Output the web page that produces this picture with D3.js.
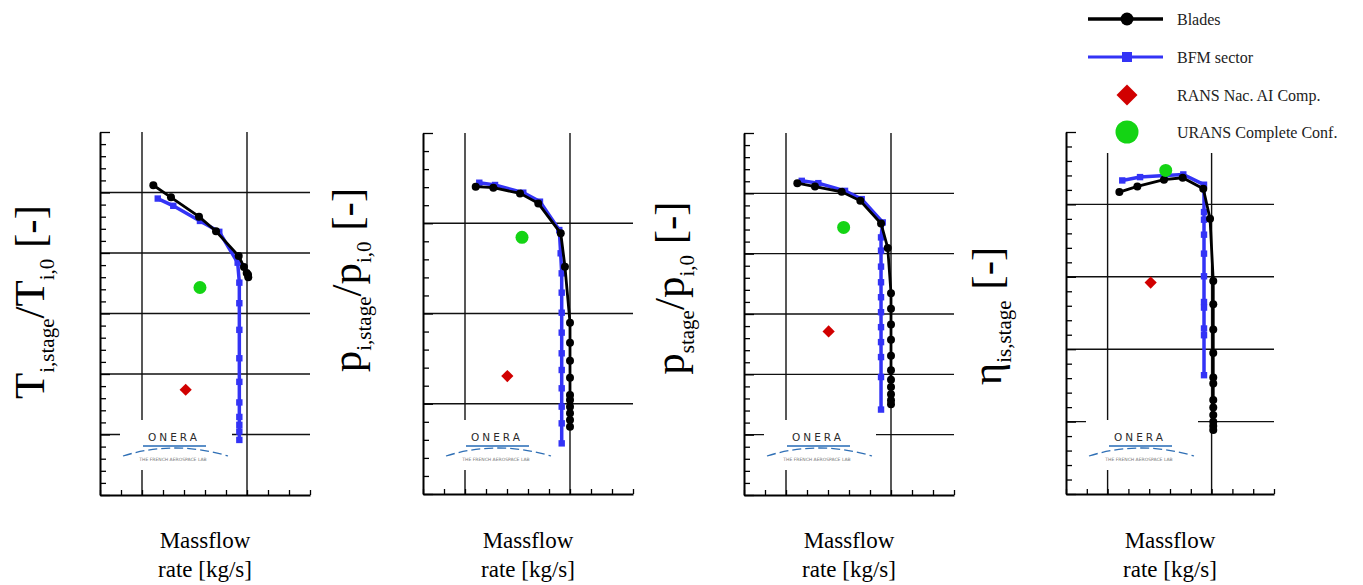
<!DOCTYPE html>
<html>
<head>
<meta charset="utf-8">
<script src="https://cdn.jsdelivr.net/npm/d3@7"></script>
<style>
  html, body { margin: 0; padding: 0; background: #fff; }
  svg { display: block; }
</style>
</head>
<body>
<div id="chart"></div>
<script>
// Values (normalised massflow on x, normalised quantity on y)
const bladesTi = [[1.108,5.12],[1.276,4.92],[1.543,4.60],[1.705,4.36],[1.921,3.95],[1.971,3.77],[1.997,3.67],[2.010,3.64],[2.012,3.60]];
const bfmTi = [[1.150,4.90],[1.298,4.78],[1.552,4.53],[1.736,4.35],[1.911,3.84],[1.927,3.51],[1.927,3.17],[1.927,2.73],[1.927,2.26],[1.927,1.87],[1.927,1.53],[1.927,1.29],[1.927,1.16],[1.927,1.05],[1.927,0.91]];
const ransTi = [1.416, 1.74];
const uransTi = [1.552, 3.43];

const bladesPi = [[1.102,3.405],[1.270,3.394],[1.524,3.331],[1.698,3.220],[1.912,2.888],[1.952,2.518],[2.0,1.898],[2.0,1.676],[2.0,1.477],[2.0,1.288],[2.0,1.097],[2.0,1.042],[2.0,0.967],[2.0,0.894],[2.0,0.820],[2.0,0.746]];
const bfmPi = [[1.136,3.449],[1.286,3.424],[1.555,3.339],[1.714,3.239],[1.898,2.925],[1.911,2.667],[1.921,2.445],[1.921,2.231],[1.921,2.009],[1.921,1.788],[1.921,1.559],[1.921,1.374],[1.921,1.171],[1.921,0.968],[1.921,0.783],[1.921,0.561]];
const ransPi = [1.403, 1.307];
const uransPi = [1.543, 2.844];

const bladesPs = [[1.108,5.169],[1.276,5.113],[1.530,5.025],[1.708,4.876],[1.905,4.501],[1.969,4.094],[2.0,3.344],[2.0,3.086],[2.0,2.826],[2.0,2.573],[2.0,2.309],[2.0,2.066],[2.0,1.912],[2.0,1.790],[2.0,1.669],[2.0,1.570],[2.0,1.504]];
const bfmPs = [[1.150,5.207],[1.308,5.169],[1.562,5.041],[1.721,4.904],[1.921,4.518],[1.905,4.270],[1.905,4.050],[1.905,3.785],[1.905,3.526],[1.905,3.278],[1.905,3.030],[1.905,2.782],[1.905,2.534],[1.905,2.286],[1.905,1.955],[1.905,1.416]];
const ransPs = [1.406, 2.711];
const uransPs = [1.549, 4.435];

const bladesEta = [[1.113,4.170],[1.286,4.248],[1.542,4.341],[1.722,4.368],[1.920,4.216],[1.985,3.803],[2.016,2.942],[2.016,2.621],[2.016,2.271],[2.016,1.949],[2.016,1.609],[2.016,1.527],[2.016,1.297],[2.016,1.196],[2.016,1.090],[2.016,0.997],[2.016,0.938],[2.016,0.883]];
const bfmEta = [[1.141,4.331],[1.312,4.377],[1.552,4.400],[1.728,4.414],[1.927,4.272],[1.927,3.894],[1.927,3.789],[1.927,3.582],[1.927,3.320],[1.927,3.007],[1.927,2.652],[1.927,2.575],[1.927,2.286],[1.927,2.193],[1.927,1.641]];
const ransEta = [1.414, 2.920];
const uransEta = [1.559, 4.469];

// y-axis labels: [main, subscript, main, subscript, tail]
const yLabelParts = [
    ['T', 'i,stage', '/T', 'i,0', ' [-]'],
    ['p', 'i,stage', '/p', 'i,0', ' [-]'],
    ['p', 'stage', '/p', 'i,0', ' [-]'],
    ['\u03b7', 'is,stage', '', '', ' [-]']
];
const xLabelLines = ['Massflow', 'rate [kg/s]'];
const legendNames = ['Blades', 'BFM sector', 'RANS Nac. AI Comp.', 'URANS Complete Conf.'];
const yMaxima = [6, 4, 6, 5];
const xDomain = [0.6, 2.6];
const xMajors = [1, 2];

const blades = [bladesTi, bladesPi, bladesPs, bladesEta];
const bfm = [bfmTi, bfmPi, bfmPs, bfmEta];
const rans = [ransTi, ransPi, ransPs, ransEta];
const urans = [uransTi, uransPi, uransPs, uransEta];

// layout
const W = 1363, H = 585;
const panelLeft = [100, 423, 744, 1066];
const panelUnit = [105, 105, 105, 104];
const panelTop = [132, 133, 133, 132];
const panelBottom = [495, 494, 495, 494];
// baseline x and centre y of each rotated label
const yLabelPos = [[44, 302], [361, 280], [684, 288], [1001, 316]];

const BLUE = '#3333f6', RED = '#d10000', GREEN = '#14d414';
const serif = '"Liberation Serif", "Times New Roman", serif';

const svg = d3.select('#chart').append('svg')
    .attr('width', W).attr('height', H)
    .style('background', '#fff');

const diamond = d3.symbol().type(d3.symbolDiamond2);

function drawLogo(g, left) {
    const logo = g.append('g').attr('class', 'logo');
    logo.append('rect')
        .attr('x', left + 20).attr('y', 420).attr('width', 112).attr('height', 50)
        .attr('fill', '#fff');
    logo.append('text')
        .attr('x', left + 74).attr('y', 441)
        .attr('text-anchor', 'middle')
        .attr('font-family', '"DejaVu Sans", sans-serif')
        .attr('font-size', 10.5)
        .attr('letter-spacing', 3)
        .attr('fill', '#2a2a2a')
        .text('ONERA');
    logo.append('rect')
        .attr('x', left + 43).attr('y', 445).attr('width', 63).attr('height', 2)
        .attr('fill', '#5b8fc8');
    logo.append('path')
        .attr('d', `M${left + 23},456 Q${left + 74},440 ${left + 128},456`)
        .attr('fill', 'none')
        .attr('stroke', '#2f6fb5')
        .attr('stroke-width', 1.3)
        .attr('stroke-dasharray', '9,4');
    logo.append('text')
        .attr('x', left + 73).attr('y', 461)
        .attr('text-anchor', 'middle')
        .attr('font-family', '"DejaVu Sans", sans-serif')
        .attr('font-size', 4.5)
        .attr('fill', '#777')
        .text('THE FRENCH AEROSPACE LAB');
}

function drawPanel(i) {
    const left = panelLeft[i];
    const x = d3.scaleLinear().domain(xDomain).range([left, left + (xDomain[1] - xDomain[0]) * panelUnit[i]]);
    const y = d3.scaleLinear().domain([0, yMaxima[i]]).range([panelBottom[i], panelTop[i]]);
    const g = svg.append('g').attr('class', 'panel');
    const right = x.range()[1];

    // grid
    const yMajors = d3.range(1, yMaxima[i]);
    g.append('g').selectAll('line').data(yMajors).join('line')
        .attr('x1', left).attr('x2', right)
        .attr('y1', d => y(d)).attr('y2', d => y(d))
        .attr('stroke', '#111').attr('stroke-width', 1.4);
    g.append('g').selectAll('line').data(xMajors).join('line')
        .attr('x1', d => x(d)).attr('x2', d => x(d))
        .attr('y1', panelTop[i]).attr('y2', panelBottom[i])
        .attr('stroke', '#111').attr('stroke-width', 1.4);

    // axes with inward ticks
    const yMinor = d3.range(0, yMaxima[i] * 5 + 1).map(k => k / 5);
    const yAxis = g.append('g')
        .attr('transform', `translate(${left},0)`)
        .call(d3.axisLeft(y).tickValues(yMinor).tickSize(-6).tickSizeOuter(0).tickFormat(''));
    yAxis.selectAll('.tick line')
        .attr('x2', d => Math.abs(d - Math.round(d)) < 1e-6 ? 10 : 6);
    const xMinor = d3.range(3, 14).map(k => k / 5);
    g.append('g')
        .attr('transform', `translate(0,${panelBottom[i]})`)
        .call(d3.axisBottom(x).tickValues(xMinor).tickSize(-5).tickSizeOuter(0).tickFormat(''));
    g.selectAll('.domain').attr('stroke', '#000').attr('stroke-width', 2);
    g.selectAll('.tick line').attr('stroke', '#000').attr('stroke-width', 1.3);

    drawLogo(g, left);

    // series
    const line = d3.line().x(d => x(d[0])).y(d => y(d[1]));
    g.append('path').datum(bfm[i])
        .attr('d', line).attr('fill', 'none')
        .attr('stroke', BLUE).attr('stroke-width', 3.5);
    g.append('g').selectAll('rect').data(bfm[i]).join('rect')
        .attr('x', d => x(d[0]) - 3.2).attr('y', d => y(d[1]) - 3.2)
        .attr('width', 6.4).attr('height', 6.4)
        .attr('fill', BLUE);
    g.append('path').datum(blades[i])
        .attr('d', line).attr('fill', 'none')
        .attr('stroke', '#000').attr('stroke-width', 2.8);
    g.append('g').selectAll('circle').data(blades[i]).join('circle')
        .attr('cx', d => x(d[0])).attr('cy', d => y(d[1]))
        .attr('r', 4).attr('fill', '#000');
    g.append('path')
        .attr('d', diamond.size(95)())
        .attr('transform', `translate(${x(rans[i][0])},${y(rans[i][1])})`)
        .attr('fill', RED);
    g.append('circle')
        .attr('cx', x(urans[i][0])).attr('cy', y(urans[i][1]))
        .attr('r', 6.5).attr('fill', GREEN);

    // y label
    const parts = yLabelParts[i];
    const t = g.append('text')
        .attr('transform', `translate(${yLabelPos[i][0]},${yLabelPos[i][1]}) rotate(-90)`)
        .attr('text-anchor', 'middle')
        .attr('font-family', serif)
        .attr('font-size', 43)
        .attr('fill', '#000');
    t.append('tspan').text(parts[0]);
    t.append('tspan').attr('font-size', 21).attr('dy', 10).text(parts[1]);
    if (parts[2]) {
        t.append('tspan').attr('dy', -10).text(parts[2]);
        t.append('tspan').attr('font-size', 21).attr('dy', 10).text(parts[3]);
    }
    t.append('tspan').attr('dy', -10).text(parts[4]);

    // x label
    const cx = (left + right) / 2;
    g.append('g').selectAll('text').data(xLabelLines).join('text')
        .attr('x', cx).attr('y', (d, k) => 548 + k * 29)
        .attr('text-anchor', 'middle')
        .attr('font-family', serif)
        .attr('font-size', 23)
        .attr('fill', '#000')
        .text(d => d);
}

[0, 1, 2, 3].forEach(drawPanel);

// legend, on a white box that hides the top of the last panel's grid
const legend = svg.append('g').attr('class', 'legend');
legend.append('rect')
    .attr('x', 1086).attr('y', 0).attr('width', W - 1086).attr('height', 153)
    .attr('fill', '#fff');
const legendY = [19, 57, 95, 132];
legend.append('line').attr('x1', 1088).attr('x2', 1163).attr('y1', legendY[0]).attr('y2', legendY[0])
    .attr('stroke', '#000').attr('stroke-width', 3.5);
legend.append('circle').attr('cx', 1127).attr('cy', legendY[0]).attr('r', 6.5).attr('fill', '#000');
legend.append('line').attr('x1', 1088).attr('x2', 1163).attr('y1', legendY[1]).attr('y2', legendY[1])
    .attr('stroke', BLUE).attr('stroke-width', 3);
legend.append('rect').attr('x', 1122).attr('y', legendY[1] - 5).attr('width', 10).attr('height', 10).attr('fill', BLUE);
legend.append('path').attr('d', diamond.size(280)())
    .attr('transform', `translate(1127,${legendY[2]})`).attr('fill', RED);
legend.append('circle').attr('cx', 1127).attr('cy', legendY[3]).attr('r', 11.5).attr('fill', GREEN);
legend.selectAll('text').data(legendNames).join('text')
    .attr('x', 1177).attr('y', (d, k) => legendY[k] + 6)
    .attr('font-family', serif)
    .attr('font-size', 16)
    .attr('fill', '#222')
    .text(d => d);
</script>
</body>
</html>
